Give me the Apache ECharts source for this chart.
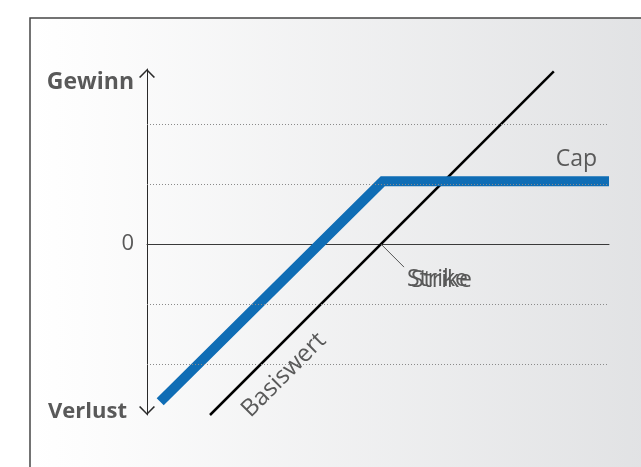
<!DOCTYPE html>
<html>
<head>
<meta charset="utf-8">
<script src="https://cdn.jsdelivr.net/npm/echarts@6/dist/echarts.min.js"></script>
<style>
  html, body { margin: 0; padding: 0; background: #ffffff; }
  #chart { width: 641px; height: 467px; }
</style>
</head>
<body>
<div id="chart"></div>
<script>
// Payoff diagram: underlying (Basiswert) vs. capped product (Cap)
const xRange = [-3.9, 3.8];
const yRange = [-2.85, 2.92];
const strike = 0;
const capLevel = 1.05;

// Underlying profit/loss line
const basiswert = [[-2.85, -2.85], [2.88, 2.88]];
// Capped product profit/loss line
const capLine = [[-3.68, -2.63], [0.03, capLevel], [3.8, capLevel]];
// Dotted reference levels
const gridLevels = [-2, -1, 1, 2];

const axisLabels = { top: 'Gewinn', bottom: 'Verlust', zero: '0' };
const lineLabels = { underlying: 'Basiswert', cap: 'Cap', strike: 'Strike' };

const FONT = '"Open Sans", "Noto Sans", sans-serif';
const TEXT = '#595959';

const chevron = 'path://M0,80 L80,0 L160,80 L148,88 L80,18 L12,88 Z';

const chart = echarts.init(document.getElementById('chart'), null, { renderer: 'canvas' });

const option = {
  animation: false,
  backgroundColor: '#ffffff',
  grid: { left: 147, right: 32, top: 69, bottom: 52 },
  xAxis: {
    type: 'value',
    min: xRange[0], max: xRange[1],
    axisLine: { onZero: true, lineStyle: { color: '#3a3a3a', width: 1 } },
    axisTick: { show: false },
    axisLabel: { show: false },
    splitLine: { show: false }
  },
  yAxis: {
    type: 'value',
    min: yRange[0], max: yRange[1],
    axisLine: {
      show: true,
      onZero: false,
      lineStyle: { color: '#2a2a2a', width: 1 },
      symbol: [chevron, chevron],
      symbolSize: [16, 9],
      symbolOffset: [4.5, -4.5]
    },
    axisTick: { show: false },
    axisLabel: { show: false },
    splitLine: { show: false }
  },
  series: [
    {
      type: 'line',
      name: 'grid',
      data: [],
      silent: true,
      markLine: {
        silent: true,
        symbol: ['none', 'none'],
        label: { show: false },
        lineStyle: { type: [1, 2], color: '#8a8a8a', width: 1 },
        data: gridLevels.map(v => ({ yAxis: v }))
      },
      z: 1
    },
    {
      type: 'line',
      name: lineLabels.underlying,
      data: basiswert,
      symbol: 'none',
      lineStyle: { color: '#000000', width: 2.5, cap: 'butt' },
      z: 3
    },
    {
      type: 'line',
      name: lineLabels.cap,
      data: capLine,
      symbol: 'none',
      lineStyle: { color: '#0f6db5', width: 10, cap: 'butt', join: 'miter' },
      z: 4
    }
  ]
};

chart.setOption(option);

// Annotations anchored to the data coordinates
const px = (p) => chart.convertToPixel({ gridIndex: 0 }, p);
const strikePt = px([strike, 0]);
const capEnd = px(capLine[capLine.length - 1]);
const basisMid = px([-1.9, -1.9]);
const yTop = px([xRange[0], yRange[1]]);
const yBottom = px([xRange[0], yRange[0]]);
const yZero = px([xRange[0], 0]);

const textStyle = (extra) => Object.assign({
  fontFamily: FONT, fontSize: 22, fill: TEXT
}, extra);

chart.setOption({
  graphic: [
    {
      type: 'rect', z: -100, silent: true,
      shape: { x: 30, y: 18, width: 640, height: 470 },
      style: {
        fill: new echarts.graphic.LinearGradient(0, 0, 1, 0, [
          { offset: 0, color: '#ffffff' },
          { offset: 0.08, color: '#fdfdfd' },
          { offset: 1, color: '#e0e1e3' }
        ]),
        stroke: '#454545', lineWidth: 1.5
      }
    },
    {
      type: 'text', x: yTop[0] - 13, y: yTop[1] + 13, z: 10,
      style: textStyle({ text: axisLabels.top, fontSize: 23, fontWeight: 'bold', align: 'right', verticalAlign: 'middle' })
    },
    {
      type: 'text', x: yBottom[0] - 20, y: yBottom[1] - 3, z: 10,
      style: textStyle({ text: axisLabels.bottom, fontWeight: 'bold', align: 'right', verticalAlign: 'middle' })
    },
    {
      type: 'text', x: yZero[0] - 13, y: yZero[1], z: 10,
      style: textStyle({ text: axisLabels.zero, align: 'right', verticalAlign: 'middle' })
    },
    {
      type: 'text', x: capEnd[0] - 12, y: capEnd[1] - 22, z: 10,
      style: textStyle({ text: lineLabels.cap, fontSize: 23, align: 'right', verticalAlign: 'middle' })
    },
    {
      type: 'line', z: 10, silent: true,
      shape: { x1: strikePt[0], y1: strikePt[1], x2: strikePt[0] + 23, y2: strikePt[1] + 23 },
      style: { stroke: '#555555', lineWidth: 1 }
    },
    {
      type: 'text', x: strikePt[0] + 26, y: strikePt[1] + 35, z: 10,
      style: textStyle({ text: lineLabels.strike, fontSize: 23, align: 'left', verticalAlign: 'middle' })
    },
    {
      type: 'text', x: strikePt[0] + 30, y: strikePt[1] + 36, z: 10,
      style: textStyle({ text: lineLabels.strike, fontSize: 23, align: 'left', verticalAlign: 'middle' })
    },
    {
      type: 'text', x: basisMid[0] + 17, y: basisMid[1] + 17, z: 10,
      rotation: Math.PI / 4,
      style: textStyle({ text: lineLabels.underlying, fontSize: 24, align: 'center', verticalAlign: 'middle' })
    }
  ]
});
</script>
</body>
</html>
